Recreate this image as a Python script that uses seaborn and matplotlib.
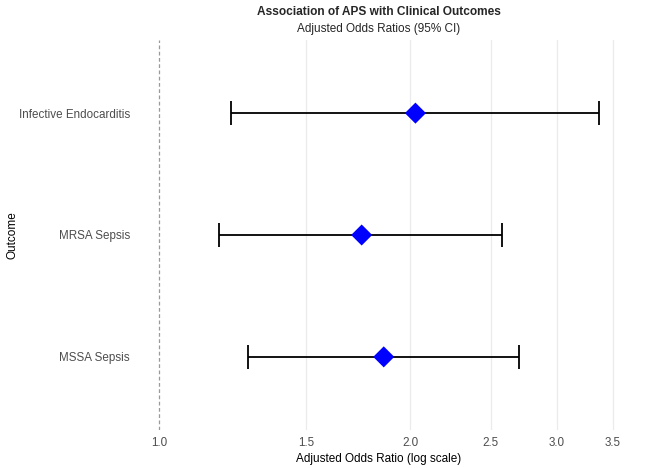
import matplotlib
matplotlib.use("Agg")
import matplotlib.pyplot as plt
import seaborn as sns
import pandas as pd
import numpy as np

outcomes = ["Infective Endocarditis", "MRSA Sepsis", "MSSA Sepsis"]
odds_ratio = [2.03, 1.75, 1.86]
ci_lower = [1.22, 1.18, 1.28]
ci_upper = [3.37, 2.58, 2.70]
x_ticks = [1.0, 1.5, 2.0, 2.5, 3.0, 3.5]
x_tick_labels = ["1.0", "1.5", "2.0", "2.5", "3.0", "3.5"]

df = pd.DataFrame({"Outcome": outcomes, "OR": odds_ratio, "lo": ci_lower, "hi": ci_upper})

sns.set_theme(style="white")
plt.rcParams["font.family"] = ["Liberation Sans", "DejaVu Sans"]

fig = plt.figure(figsize=(6.52, 4.68), dpi=100)
ax = fig.add_axes([137 / 652, 1 - 430 / 468, (621 - 137) / 652, (430 - 40) / 468])
ax.set_xscale("log")

pos = np.arange(len(outcomes))
ax.axvline(1.0, color="#9a9a9a", linestyle=(0, (3, 2)), linewidth=0.9, zorder=1)
for t in x_ticks[1:]:
    ax.axvline(t, color="#ebebeb", linewidth=0.9, zorder=0)

ax.errorbar(df["OR"], pos, xerr=[df["OR"] - df["lo"], df["hi"] - df["OR"]],
            fmt="none", ecolor="black", elinewidth=1.3, capsize=8.6, capthick=1.3, zorder=2)
sns.scatterplot(x=df["OR"].values, y=pos, marker="D", s=115, color="#0000ff",
                edgecolor="none", ax=ax, zorder=3)

lmin, lmax = np.log(1.0), np.log(max(ci_upper))
pad = 0.05 * (lmax - lmin)
ax.set_xlim(np.exp(lmin - pad), np.exp(lmax + pad))
ax.set_ylim(len(outcomes) - 1 + 0.6, -0.6)

ax.set_xticks(x_ticks)
ax.set_xticklabels(x_tick_labels)
ax.xaxis.set_minor_locator(matplotlib.ticker.NullLocator())
ax.set_yticks(pos)
ax.set_yticklabels(outcomes)
ax.tick_params(axis="both", length=0, labelsize=8.4, labelcolor="#4d4d4d")
ax.tick_params(axis="x", pad=5)
ax.tick_params(axis="y", pad=5)
for s in ax.spines.values():
    s.set_visible(False)

ax.set_xlabel("Adjusted Odds Ratio (log scale)", fontsize=8.5, color="black", labelpad=3)
ax.set_ylabel("Outcome", fontsize=8.5, color="black", labelpad=0.5)

fig.text(0.5 * (137 + 621) / 652, 1 - 12 / 468, "Association of APS with Clinical Outcomes",
         ha="center", va="center", fontsize=8.6, fontweight="bold")
fig.text(0.5 * (137 + 621) / 652, 1 - 29 / 468, "Adjusted Odds Ratios (95% CI)",
         ha="center", va="center", fontsize=8.5)

fig.savefig("out.png", dpi=100)
